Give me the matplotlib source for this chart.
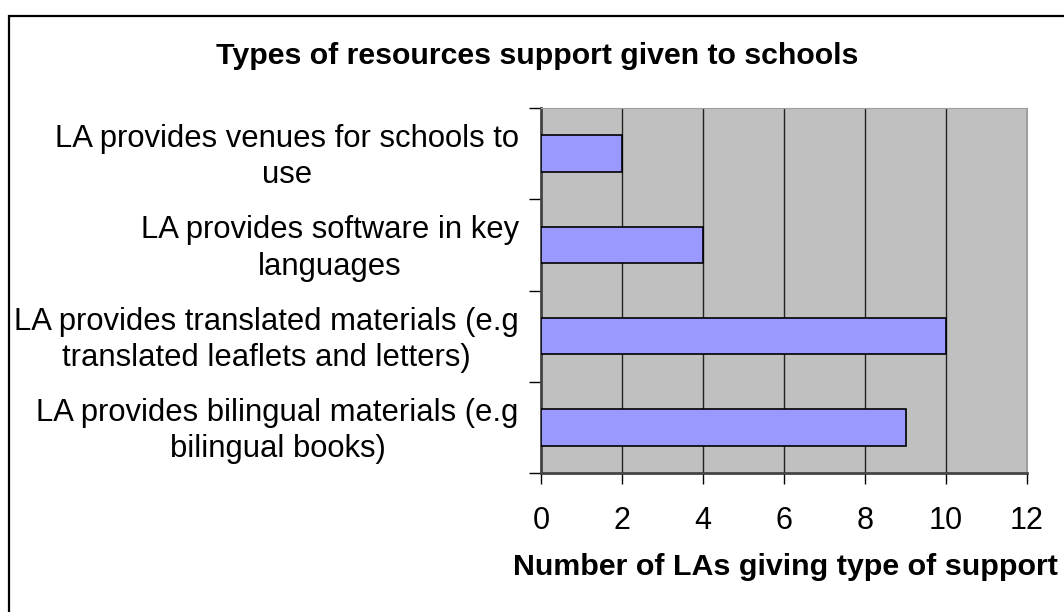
import matplotlib.pyplot as plt
from matplotlib.patches import Rectangle

plt.rcParams['font.family'] = ['Liberation Sans', 'DejaVu Sans']

# support types, listed top to bottom as drawn
support_types = [
    'LA provides venues for schools to\nuse',
    'LA provides software in key\nlanguages',
    'LA provides translated materials (e.g\ntranslated leaflets and letters)',
    'LA provides bilingual materials (e.g\nbilingual books)',
]
la_counts = [2, 4, 10, 9]
x_ticks = [0, 2, 4, 6, 8, 10, 12]

fig = plt.figure(figsize=(10.64, 6.12), dpi=100)
ax = fig.add_axes([541 / 1064, 1 - 473 / 612, 486 / 1064, 365 / 612])
ax.set_facecolor('#C0C0C0')

ypos = list(range(len(support_types)))
ax.barh(ypos, la_counts, height=0.4, color='#9999FF', edgecolor='black',
        linewidth=1.2, zorder=3)

ax.set_xlim(0, 12)
ax.set_ylim(len(support_types) - 0.5, -0.5)
ax.set_xticks(x_ticks)
ax.set_xticklabels([str(t) for t in x_ticks], fontsize=22)
ax.tick_params(axis='x', direction='out', length=8, width=1, pad=16)
ax.xaxis.grid(True, color='#222222', linewidth=1, zorder=1)
ax.set_axisbelow(True)

# category ticks sit on the band boundaries, labels at band centres
ax.set_yticks([i - 0.5 for i in range(len(support_types) + 1)])
ax.set_yticklabels([])
ax.tick_params(axis='y', direction='out', length=9, width=1)
for i, lab in enumerate(support_types):
    ax.text(-0.55, i + 0.04, lab, ha='right', va='center', multialignment='center',
            fontsize=22.3, linespacing=1.27, transform=ax.transData)

ax.spines['left'].set_color('#444444')
ax.spines['left'].set_linewidth(2)
ax.spines['bottom'].set_color('#444444')
ax.spines['bottom'].set_linewidth(2)
ax.spines['top'].set_color('#A0A0A0')
ax.spines['right'].set_color('#A0A0A0')

fig.text(537 / 1064, 1 - 56 / 612, 'Types of resources support given to schools',
         ha='center', va='center', fontsize=21.8, fontweight='bold')
fig.text(785 / 1064, 1 - 567 / 612, 'Number of LAs giving type of support',
         ha='center', va='center', fontsize=21.9, fontweight='bold')

# chart frame, running off the right and bottom edges
fig.patches.append(Rectangle((9 / 1064, -0.05), 1.1, 1 - 16 / 612 + 0.05,
                             transform=fig.transFigure, fill=False,
                             edgecolor='black', linewidth=1.6))

fig.savefig('out.png', dpi=100)
